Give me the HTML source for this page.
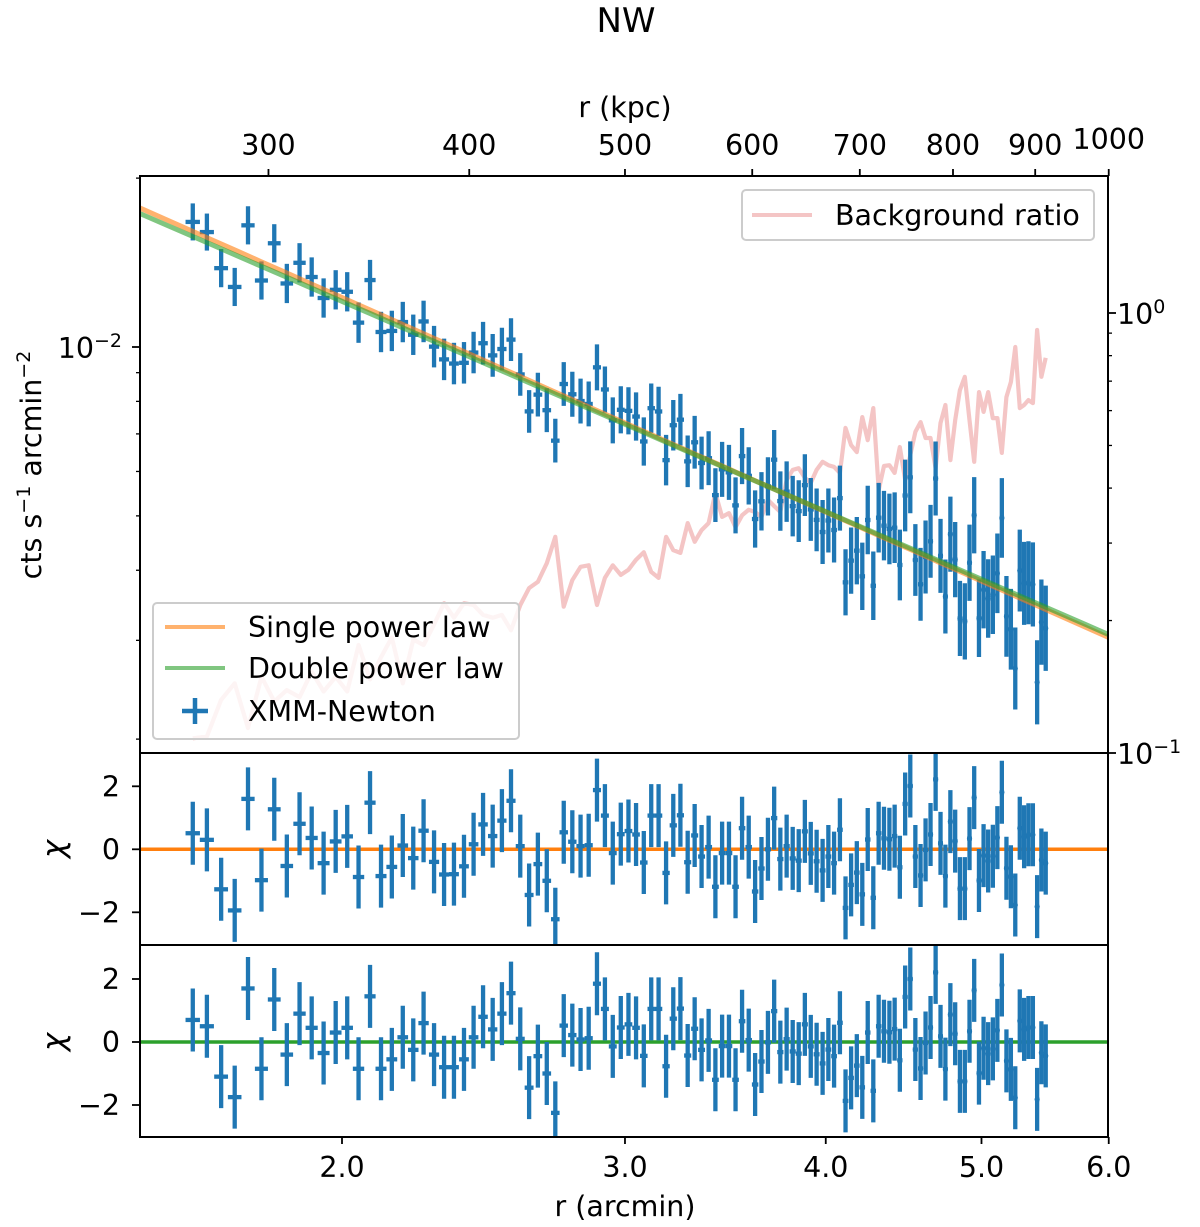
<!DOCTYPE html>
<html><head><meta charset="utf-8"><style>
html,body{margin:0;padding:0;background:#fff;}
svg{display:block;font-family:"DejaVu Sans","Liberation Sans",sans-serif;}
</style></head><body>
<svg id="chart" width="1200" height="1227" viewBox="0 0 1200 1227" xmlns="http://www.w3.org/2000/svg">
<defs>
<clipPath id="cMain"><rect x="140" y="176" width="968" height="577"/></clipPath>
<clipPath id="cR1"><rect x="140" y="753" width="968" height="192"/></clipPath>
<clipPath id="cR2"><rect x="140" y="945" width="968" height="192"/></clipPath>
</defs>
<text x="626" y="32" font-size="34" text-anchor="middle">NW</text>
<text x="625" y="117" font-size="28.5" text-anchor="middle">r (kpc)</text>
<text x="625" y="1216" font-size="28.5" text-anchor="middle">r (arcmin)</text>
<text transform="translate(41,465) rotate(-90)" font-size="28.5" text-anchor="middle">cts s<tspan baseline-shift="super" font-size="19">−1</tspan> arcmin<tspan baseline-shift="super" font-size="19">−2</tspan></text>
<text transform="translate(64,849) rotate(-90)" font-size="31" font-style="italic" text-anchor="middle">χ</text>
<text transform="translate(64,1042) rotate(-90)" font-size="31" font-style="italic" text-anchor="middle">χ</text>
<g id="gBg" clip-path="url(#cMain)"></g>
<g id="gMain" clip-path="url(#cMain)"></g>
<g id="gR1" clip-path="url(#cR1)"></g>
<g id="gR2" clip-path="url(#cR2)"></g>
<g id="gAxes"></g>
<g>
<rect x="742" y="190" width="352" height="50" rx="4" fill="#fff" fill-opacity="0.8" stroke="#ccc" stroke-width="2"/>
<line x1="752" y1="215" x2="812" y2="215" stroke="#d62728" stroke-opacity="0.27" stroke-width="4"/>
<text x="835" y="225" font-size="28.5">Background ratio</text>
</g>
<g>
<rect x="153" y="603" width="366" height="136" rx="4" fill="#fff" fill-opacity="0.8" stroke="#ccc" stroke-width="2"/>
<line x1="165" y1="627" x2="225" y2="627" stroke="#ff7f0e" stroke-opacity="0.6" stroke-width="4"/>
<text x="248" y="637" font-size="28.5">Single power law</text>
<line x1="165" y1="668" x2="225" y2="668" stroke="#2ca02c" stroke-opacity="0.6" stroke-width="4"/>
<text x="248" y="678" font-size="28.5">Double power law</text>
<line x1="182" y1="711" x2="208" y2="711" stroke="#1f77b4" stroke-width="4.5"/>
<line x1="195" y1="698" x2="195" y2="724" stroke="#1f77b4" stroke-width="4.5"/>
<text x="248" y="721" font-size="28.5">XMM-Newton</text>
</g>
</svg>
<script>
const radius = [1.615,1.648,1.682,1.715,1.748,1.782,1.815,1.848,1.882,1.915,
1.948,1.982,2.015,2.048,2.082,2.115,2.148,2.182,2.215,2.248,
2.282,2.315,2.348,2.382,2.415,2.448,2.482,2.515,2.548,2.582,
2.615,2.648,2.682,2.715,2.748,2.782,2.815,2.848,2.882,2.915,
2.948,2.982,3.015,3.048,3.082,3.115,3.148,3.182,3.215,3.248,
3.282,3.315,3.348,3.382,3.415,3.448,3.482,3.515,3.548,3.582,
3.615,3.648,3.682,3.715,3.748,3.782,3.815,3.848,3.882,3.915,
3.948,3.982,4.015,4.048,4.082,4.115,4.148,4.182,4.215,4.248,
4.282,4.315,4.348,4.382,4.415,4.448,4.482,4.515,4.548,4.582,
4.615,4.648,4.682,4.715,4.748,4.782,4.815,4.848,4.882,4.915,
4.948,4.982,5.015,5.048,5.082,5.115,5.148,5.182,5.215,5.248,
5.282,5.315,5.348,5.382,5.415,5.448,5.482];
const chiSingle = [0.51,0.3,-1.27,-1.94,1.6,-0.98,1.27,-0.53,0.81,0.36,-0.44,0.25,0.41,-0.88,1.48,-0.85,-0.56,0.12,-0.28,0.59,-0.4,-0.8,-0.79,-0.54,
0.16,0.79,0.42,0.91,1.54,0.1,-1.45,-0.47,-1.0,-2.22,
0.54,0.24,0.1,0.13,1.88,1.07,-0.12,0.48,0.58,0.47,
-0.42,1.07,1.07,-0.75,0.76,1.08,-0.41,0.44,-0.23,0.07,
-1.19,-0.12,-0.12,-1.19,0.67,0.07,-1.34,-0.61,0.0,0.99,-0.31,0.1,
-0.29,-0.36,0.57,-0.13,-0.38,-0.67,-0.23,-0.44,0.62,-1.86,
-1.13,-0.74,-1.43,0.31,-1.54,0.51,0.35,0.32,0.42,-0.57,
1.44,2.01,-0.23,-0.83,-0.02,0.47,2.22,0.19,-0.85,0.88,
0.26,-1.25,-1.25,0.34,1.64,-0.99,-0.2,-0.37,-0.22,0.37,
1.81,-0.6,-0.87,-1.77,0.67,0.4,0.46,0.46,-1.82,-0.34,-0.44];
const chiDouble = [0.7,0.5,-1.1,-1.75,1.7,-0.85,1.35,-0.4,0.9,0.45,-0.35,0.3,0.45,-0.85,1.45,-0.85,-0.55,0.15,-0.25,0.6,-0.4,-0.8,-0.8,-0.55,
0.15,0.8,0.4,0.9,1.55,0.1,-1.45,-0.45,-1.0,-2.25,
0.52,0.22,0.08,0.12,1.85,1.05,-0.14,0.46,0.56,0.45,
-0.44,1.05,1.05,-0.77,0.74,1.06,-0.43,0.42,-0.25,0.05,
-1.2,-0.13,-0.13,-1.2,0.66,0.06,-1.35,-0.62,-0.01,0.98,-0.32,0.09,
-0.3,-0.37,0.56,-0.14,-0.39,-0.68,-0.24,-0.45,0.61,-1.87,
-1.14,-0.75,-1.44,0.3,-1.55,0.5,0.34,0.31,0.41,-0.58,
1.43,2.0,-0.24,-0.84,-0.03,0.46,2.21,0.18,-0.86,0.87,
0.26,-1.25,-1.25,0.34,1.64,-0.99,-0.2,-0.37,-0.22,0.37,
1.81,-0.6,-0.87,-1.77,0.67,0.4,0.46,0.46,-1.82,-0.34,-0.44];
const errDex = [0.033,0.033,0.034,0.034,0.034,0.034,0.034,0.035,0.035,0.035,
0.035,0.035,0.035,0.036,0.036,0.036,0.036,0.036,0.036,0.037,
0.037,0.037,0.037,0.037,0.037,0.038,0.038,0.038,0.038,0.038,
0.038,0.039,0.039,0.039,0.039,0.040,0.040,0.040,0.041,0.041,
0.041,0.042,0.042,0.043,0.043,0.044,0.044,0.045,0.045,0.046,
0.046,0.047,0.047,0.048,0.048,0.049,0.049,0.050,0.050,0.051,
0.051,0.052,0.052,0.053,0.053,0.054,0.054,0.055,0.055,0.056,
0.056,0.057,0.057,0.058,0.058,0.059,0.059,0.060,0.060,0.061,
0.061,0.062,0.062,0.063,0.063,0.063,0.064,0.064,0.064,0.065,
0.065,0.065,0.066,0.066,0.066,0.067,0.067,0.067,0.068,0.068,
0.068,0.069,0.069,0.070,0.070,0.071,0.071,0.072,0.072,0.073,
0.073,0.074,0.074,0.075,0.075,0.076,0.076];
const bgRatio = [0.108,0.109,0.132,0.144,0.114,0.149,0.131,0.139,0.134,0.153,
0.138,0.149,0.138,0.176,0.147,0.165,0.183,0.144,0.181,0.176,
0.196,0.219,0.203,0.219,0.217,0.206,0.203,0.206,0.190,0.217,
0.237,0.245,0.270,0.310,0.215,0.247,0.265,0.267,0.217,0.250,
0.267,0.254,0.261,0.275,0.286,0.258,0.250,0.310,0.289,0.285,
0.333,0.302,0.321,0.333,0.390,0.344,0.351,0.326,0.347,0.357,
0.353,0.344,0.376,0.364,0.353,0.417,0.440,0.444,0.422,0.411,
0.440,0.459,0.451,0.447,0.433,0.548,0.501,0.483,0.580,0.514,
0.608,0.396,0.449,0.451,0.433,0.496,0.417,0.476,0.537,0.565,
0.520,0.520,0.444,0.562,0.618,0.463,0.571,0.668,0.716,0.571,
0.459,0.661,0.596,0.661,0.577,0.577,0.481,0.644,0.697,0.837,
0.608,0.618,0.634,0.624,0.915,0.716,0.791];
const singleFit = [0.0177, -1.27];
const doubleFit = [0.0173, -1.245];
const binHalf = 1/60;
const xTickVals = [2.0,3.0,4.0,5.0,6.0];
const xTickLabels = ["2.0","3.0","4.0","5.0","6.0"];
const kpcTickVals = [300,400,500,600,700,800,900,1000];
const kpcTickLabels = ["300","400","500","600","700","800","900","1000"];
const chiTickVals = [-2,0,2];
const chiTickLabels = ["−2","0","2"];

const NS="http://www.w3.org/2000/svg";
const X0=140,X1=1108;
const FS=28.5;
const xS=r=>342+1607*Math.log10(r/2);
const yMain=v=>347-561*Math.log10(v/0.01);
const yRight=v=>313-440*Math.log10(v);
const yR1=c=>849.3-31.5*c;
const yR2=c=>1042-31.5*c;
const rMin=1.497,rMax=6.0;
const model=(p,r)=>p[0]*Math.pow(r/rMin,p[1]);
function el(tag,attrs,parent){const e=document.createElementNS(NS,tag);for(const k in attrs)e.setAttribute(k,attrs[k]);parent.appendChild(e);return e;}
const blue="#1f77b4";
const BW="4.3";

const gBg=document.getElementById('gBg');
let d="";
radius.forEach((r,i)=>{d+=(i?"L":"M")+xS(r).toFixed(1)+","+yRight(bgRatio[i]).toFixed(1);});
const bgLine=el('path',{d:d,fill:"none",stroke:"#d62728","stroke-opacity":"0.27","stroke-width":"4.2","stroke-linejoin":"round"},gBg);



const gMain=document.getElementById('gMain');
function fitLine(p,color,name,g,yf){
  const pts=[];for(let k=0;k<=40;k++){const r=rMin*Math.pow(rMax/rMin,k/40);pts.push(xS(r).toFixed(1)+","+yf(model(p,r)).toFixed(1));}
  const l=el('polyline',{points:pts.join(" "),fill:"none",stroke:color,"stroke-opacity":"0.6","stroke-width":"5"},g);
  
  
}
radius.forEach((r,i)=>{
  const m=model(singleFit,r);
  const lv=Math.log10(m)+chiSingle[i]*errDex[i];
  const v=Math.pow(10,lv),lo=Math.pow(10,lv-errDex[i]),hi=Math.pow(10,lv+errDex[i]);
  const g=el('g',{},gMain);
  
  
  const x=xS(r);
  el('line',{x1:xS(r-binHalf),x2:xS(r+binHalf),y1:yMain(v),y2:yMain(v),stroke:blue,"stroke-width":BW},g);
  el('line',{x1:x,x2:x,y1:yMain(lo),y2:yMain(hi),stroke:blue,"stroke-width":BW},g);
  el('circle',{cx:x,cy:yMain(v),r:2.6,fill:blue},g);
});
fitLine(singleFit,"#ff7f0e","single-power-law-line",gMain,yMain);
fitLine(doubleFit,"#2ca02c","double-power-law-line",gMain,yMain);

function resid(gid,arr,yf,color,name){
  const g0=document.getElementById(gid);
  const z=el('line',{x1:X0,x2:X1,y1:yf(0),y2:yf(0),stroke:color,"stroke-width":"3.5"},g0);
  
  
  radius.forEach((r,i)=>{
    const g=el('g',{},g0);
    
    
    const x=xS(r),y=yf(arr[i]);
    el('line',{x1:xS(r-binHalf),x2:xS(r+binHalf),y1:y,y2:y,stroke:blue,"stroke-width":BW},g);
    el('line',{x1:x,x2:x,y1:yf(arr[i]-1),y2:yf(arr[i]+1),stroke:blue,"stroke-width":BW},g);
    el('circle',{cx:x,cy:y,r:2.6,fill:blue},g);
  });
}
resid('gR1',chiSingle,yR1,"#ff7f0e","single-zero-line");
resid('gR2',chiDouble,yR2,"#2ca02c","double-zero-line");

const gA=document.getElementById('gAxes');
const frames=[[176,753,'main-axes-frame'],[753,945,'residual1-frame'],[945,1137,'residual2-frame']];
frames.forEach(f=>{const r=el('rect',{x:X0,y:f[0],width:X1-X0,height:f[1]-f[0],fill:"none",stroke:"#000","stroke-width":"2"},gA);

});
function tk(x1,y1,x2,y2,w){el('line',{x1,y1,x2,y2,stroke:"#000","stroke-width":w||1.8},gA);}
function tx(x,y,s,anchor,size,name){const t=el('text',{x,y,"font-size":size||FS,"text-anchor":anchor||"middle"},gA);t.textContent=s;

return t;}
xTickVals.forEach((v,i)=>{const x=xS(v);tk(x,1137,x,1144);tx(x,1177,xTickLabels[i],"middle",FS,"x-tick-label");});
kpcTickVals.forEach((v,i)=>{const x=xS(v/166.667);tk(x,176,x,169);tx(x,i==kpcTickVals.length-1?149:155,kpcTickLabels[i],"middle",FS,"top-tick-label");});
for(let m=2;m<=9;m++){tk(X0,yMain(m*0.001),X0-4,yMain(m*0.001),1.3);}
tk(X0,yMain(0.02),X0-4,yMain(0.02),1.3);
tk(X0,yMain(0.01),X0-8,yMain(0.01));
function supLabel(x,y,base,exp,anchor,name){const t=tx(x,y,base,anchor,FS,name);const s=document.createElementNS(NS,'tspan');s.setAttribute('baseline-shift','super');s.setAttribute('font-size','19');s.textContent=exp;t.appendChild(s);}
supLabel(122,358,"10","−2","end","y-tick-label");
for(let m=2;m<=9;m++){tk(X1,yRight(m*0.1),X1+4,yRight(m*0.1),1.3);}
tk(X1,yRight(1),X1+8,yRight(1));tk(X1,yRight(0.1),X1+8,yRight(0.1));
supLabel(1117,324,"10","0","start","right-tick-label");
supLabel(1117,764,"10","−1","start","right-tick-label");
chiTickVals.forEach((v,i)=>{tk(X0,yR1(v),X0-8,yR1(v));tx(120,yR1(v)+10,chiTickLabels[i],"end",FS,"chi1-tick-label");
tk(X0,yR2(v),X0-8,yR2(v));tx(120,yR2(v)+10,chiTickLabels[i],"end",FS,"chi2-tick-label");});
</script>
</body></html>
